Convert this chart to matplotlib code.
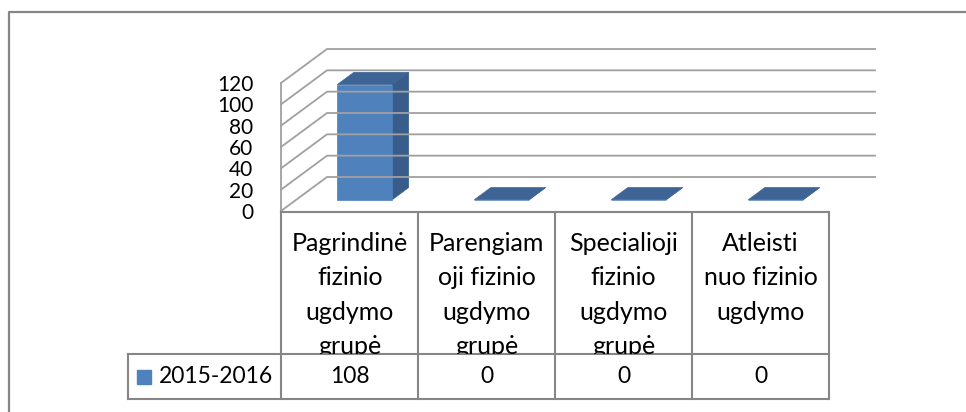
import matplotlib
matplotlib.use('Agg')
import matplotlib.pyplot as plt
from matplotlib.patches import Polygon
from matplotlib.lines import Line2D
from matplotlib.transforms import Bbox, TransformedBbox, IdentityTransform

# data
categories = ['Pagrindinė\nfizinio\nugdymo\ngrupė',
              'Parengiam\noji fizinio\nugdymo\ngrupė',
              'Specialioji\nfizinio\nugdymo\ngrupė',
              'Atleisti\nnuo fizinio\nugdymo']
series_name = '2015-2016'
values = [108, 0, 0, 0]
yticks = [0, 20, 40, 60, 80, 100, 120]

plt.rcParams['font.family'] = ['Lato', 'DejaVu Sans']

W, H = 966, 412
fig = plt.figure(figsize=(W / 100, H / 100), dpi=100)
fig.patch.set_facecolor('white')

def fx(px):
    return px / W

def fy(py):
    return 1 - py / H

# front plane of the pseudo-3d plot area
ax = fig.add_axes([fx(281), fy(211), fx(829) - fx(281), fy(83) - fy(211)])
ax.set_xlim(-0.5, len(values) - 0.5)
ax.set_ylim(0, 120)
ax.patch.set_visible(False)
for s in ax.spines.values():
    s.set_visible(False)
ax.set_xticks([])
ax.set_yticks(yticks)
ax.tick_params(axis='y', length=0, pad=20, labelsize=15)

DX, DY = 46, 34   # depth of the 3d box in pixels
grid_c = '#a0a0a0'

def proj(x, v, f):
    px, py = ax.transData.transform((x, v))
    return (px + DX * f, py + DY * f)

def line(pts, **kw):
    xs = [p[0] for p in pts]
    ys = [p[1] for p in pts]
    ax.add_line(Line2D(xs, ys, transform=IdentityTransform(), clip_on=False, **kw))

x_left, x_right = -0.5, len(values) - 0.5
# walls / gridlines
for v in yticks:
    line([proj(x_left, v, 0), proj(x_left, v, 1), proj(x_right, v, 1)], color=grid_c, lw=1.3)
line([proj(x_left, 0, 0), proj(x_left, 120, 0)], color=grid_c, lw=1.3)

# bars
f0, f1 = 0.33, 0.69
bw = 0.4
c_front, c_side, c_top = '#4f81bd', '#385d8a', '#3d6494'
for i, v in enumerate(values):
    x0, x1 = i - bw / 2, i + bw / 2
    front = [proj(x0, 0, f0), proj(x1, 0, f0), proj(x1, v, f0), proj(x0, v, f0)]
    side = [proj(x1, 0, f0), proj(x1, 0, f1), proj(x1, v, f1), proj(x1, v, f0)]
    top = [proj(x0, v, f0), proj(x1, v, f0), proj(x1, v, f1), proj(x0, v, f1)]
    for pts, c in [(side, c_side), (front, c_front), (top, c_top)]:
        ax.add_patch(Polygon(pts, closed=True, facecolor=c, edgecolor=c, lw=0.5,
                             transform=IdentityTransform(), clip_on=False))

# data table
LEG_W = 1.12
ROW = 45 / 187
tax = fig.add_axes([fx(128), fy(399), fx(829) - fx(128), fy(212) - fy(399)])
tax.set_xlim(x_left - LEG_W, x_right)
tax.set_ylim(0, 1)
tax.axis('off')
tab_c = '#868686'
edges = [x_left + k for k in range(len(values) + 1)]
for xe in edges:
    tax.plot([xe, xe], [0, 1], color=tab_c, lw=1.5, clip_on=False)
tax.plot([x_left - LEG_W] * 2, [0, ROW], color=tab_c, lw=1.5, clip_on=False)
tax.plot([x_left, x_right], [1, 1], color=tab_c, lw=1.5, clip_on=False)
tax.plot([x_left - LEG_W, x_right], [ROW, ROW], color=tab_c, lw=1.5, clip_on=False)
tax.plot([x_left - LEG_W, x_right], [0, 0], color=tab_c, lw=1.5, clip_on=False)

for i, (cat, v) in enumerate(zip(categories, values)):
    t = tax.text(i, 0.893, cat, ha='center', va='top', fontsize=18, linespacing=1.6)
    t.set_clip_box(TransformedBbox(Bbox([[i - 0.5, ROW], [i + 0.5, 1]]), tax.transData))
    t.set_clip_on(True)
    tax.text(i, ROW / 2, str(v), ha='center', va='center', fontsize=16.5)

tax.plot([x_left - LEG_W + 0.12], [ROW / 2], marker='s', markersize=10,
         color=c_front, linestyle='none', clip_on=False)
tax.text(x_left - LEG_W + 0.225, ROW / 2, series_name, ha='left', va='center', fontsize=16.5)

# chart area border
fig.add_artist(Line2D([fx(9), fx(9), 1.0], [0, fy(12), fy(12)], color='#868686', lw=1.6,
                      transform=fig.transFigure))

fig.savefig('out.png', dpi=100)
